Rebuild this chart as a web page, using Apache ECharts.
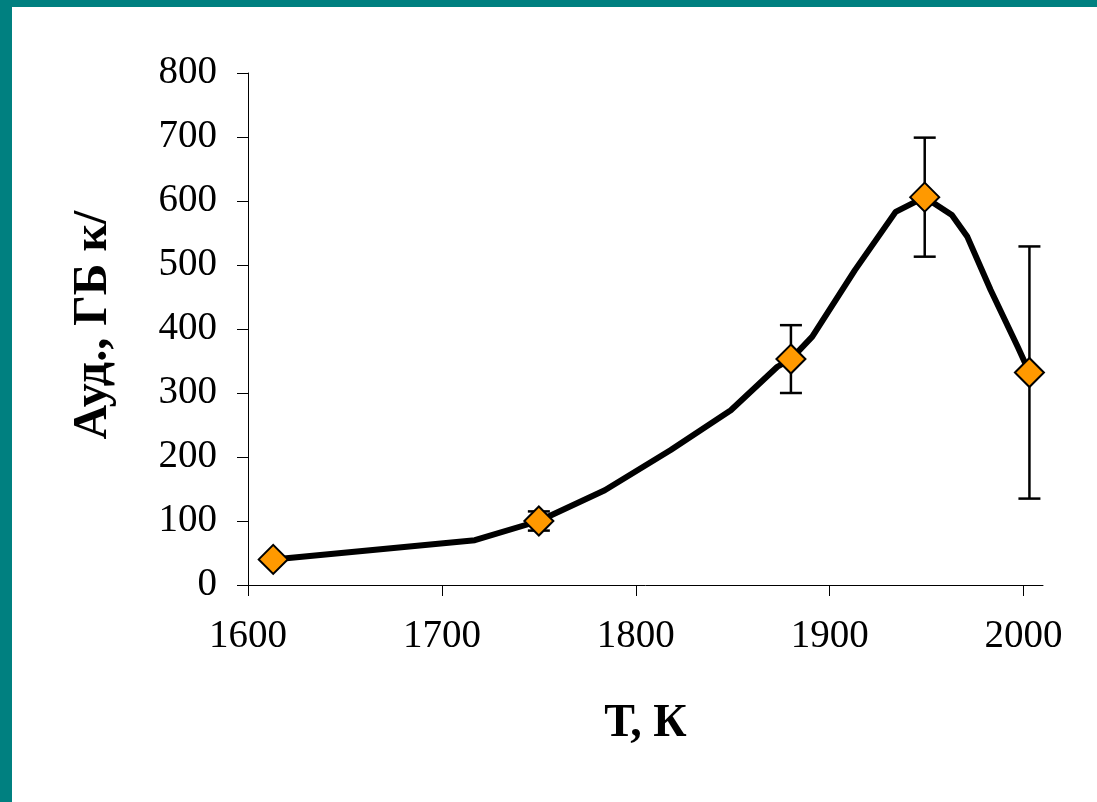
<!DOCTYPE html>
<html>
<head>
<meta charset="utf-8">
<script src="https://cdn.jsdelivr.net/npm/echarts@6/dist/echarts.min.js"></script>
<style>
  html, body { margin: 0; padding: 0; background: #ffffff; }
  #chart { width: 1097px; height: 802px; }
</style>
</head>
<body>
<div id="chart"></div>
<script>
// Measured points: temperature (K) and specific activity
const tempK = [1613, 1750, 1880, 1949, 2003];
const activity = [40, 100, 353, 606, 332];
const errHalf = [0, 15, 53, 93, 197];

// Fitted curve through the measurements
const curveT = [1613, 1717, 1750, 1784, 1818, 1849, 1873, 1880, 1891, 1913, 1934, 1949, 1963, 1971, 1983, 1997, 2003];
const curveA = [40, 70, 100, 148, 211, 273, 341, 353, 388, 492, 583, 606, 578, 544, 461, 372, 332];

// Tick labels
const xTicks = [1600, 1700, 1800, 1900, 2000];
const yTicks = [0, 100, 200, 300, 400, 500, 600, 700, 800];

const xTitle = 'Т, К';
const yTitle = 'Ауд., ГБ к/';

const chart = echarts.init(document.getElementById('chart'), null, { renderer: 'canvas' });

const font = 'Liberation Serif';
const errData = tempK.map((t, i) => [t, activity[i], activity[i] - errHalf[i], activity[i] + errHalf[i]]);

chart.setOption({
  backgroundColor: '#ffffff',
  animation: false,
  graphic: [
    { type: 'rect', left: 0, top: 0, shape: { width: 1097, height: 7 }, style: { fill: '#008080' }, z: 100 },
    { type: 'rect', left: 0, top: 0, shape: { width: 12, height: 802 }, style: { fill: '#008080' }, z: 100 }
  ],
  grid: { left: 248, right: 54, top: 73, bottom: 217 },
  xAxis: {
    type: 'value',
    min: 1600,
    max: 2010,
    interval: 100,
    name: xTitle,
    nameLocation: 'middle',
    nameGap: 116,
    nameTextStyle: { fontFamily: font, fontSize: 46, fontWeight: 'bold', color: '#000' },
    axisLine: { show: true, onZero: false, lineStyle: { color: '#000', width: 1 } },
    axisTick: { show: true, inside: false, length: 11, customValues: xTicks, lineStyle: { color: '#000', width: 1 } },
    axisLabel: {
      customValues: xTicks, margin: 32, fontFamily: font, fontSize: 39, color: '#000',
      formatter: v => String(v)
    },
    splitLine: { show: false }
  },
  yAxis: {
    type: 'value',
    min: 0,
    max: 800,
    interval: 100,
    name: yTitle,
    nameLocation: 'middle',
    nameRotate: 90,
    nameGap: 130,
    nameTextStyle: { fontFamily: font, fontSize: 48, fontWeight: 'bold', color: '#000', padding: [0, 0, 0, 8] },
    axisLine: { show: true, onZero: false, lineStyle: { color: '#000', width: 1 } },
    axisTick: { show: true, inside: false, length: 11, customValues: yTicks, lineStyle: { color: '#000', width: 1 } },
    axisLabel: {
      customValues: yTicks, margin: 31, fontFamily: font, fontSize: 39, color: '#000',
      formatter: v => String(v)
    },
    splitLine: { show: false }
  },
  series: [
    {
      type: 'custom',
      z: 1,
      data: errData,
      renderItem: function (params, api) {
        const x = api.value(0);
        const lo = api.value(2);
        const hi = api.value(3);
        if (hi === lo) return null;
        const top = api.coord([x, hi]);
        const bot = api.coord([x, lo]);
        const cap = 11;
        const style = { stroke: '#000', lineWidth: 2.5 };
        return {
          type: 'group',
          children: [
            { type: 'line', shape: { x1: top[0], y1: top[1], x2: bot[0], y2: bot[1] }, style: style },
            { type: 'line', shape: { x1: top[0] - cap, y1: top[1], x2: top[0] + cap, y2: top[1] }, style: style },
            { type: 'line', shape: { x1: bot[0] - cap, y1: bot[1], x2: bot[0] + cap, y2: bot[1] }, style: style }
          ]
        };
      }
    },
    {
      type: 'line',
      z: 2,
      data: curveT.map((t, i) => [t, curveA[i]]),
      smooth: false,
      showSymbol: false,
      symbol: 'none',
      lineStyle: { color: '#000', width: 6, join: 'round' }
    },
    {
      type: 'scatter',
      z: 3,
      data: tempK.map((t, i) => [t, activity[i]]),
      symbol: 'diamond',
      symbolSize: 29,
      itemStyle: { color: '#FF9900', borderColor: '#000', borderWidth: 2, opacity: 1 }
    }
  ]
});
</script>
</body>
</html>
